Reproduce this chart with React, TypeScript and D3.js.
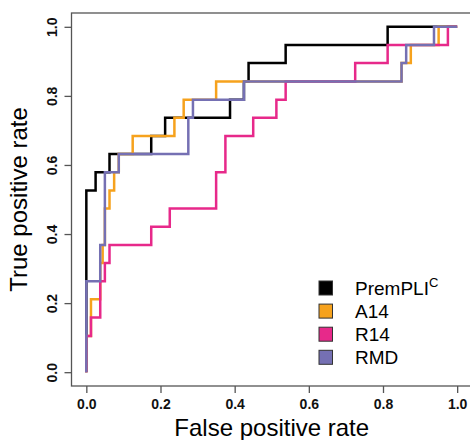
import React, { useEffect, useRef } from 'react'
import * as d3 from 'd3'

const xTicks = [0, 0.2, 0.4, 0.6, 0.8, 1.0]
const yTicks = [0, 0.2, 0.4, 0.6, 0.8, 1.0]

// ROC corners: at each fpr the tpr steps up to the listed value
const premFpr = [0, 0, 0.025, 0.0625, 0.175, 0.2125, 0.3875, 0.425, 0.4375, 0.5375, 0.8125, 1]
const premTpr = [0, 0.526, 0.579, 0.632, 0.684, 0.737, 0.789, 0.842, 0.895, 0.947, 1, 1]

const a14Fpr = [0, 0, 0.0125, 0.0375, 0.044, 0.05, 0.0625, 0.075, 0.0875, 0.125, 0.2375, 0.2625, 0.35, 0.85, 0.875, 0.95, 1]
const a14Tpr = [0, 0.105, 0.211, 0.316, 0.368, 0.474, 0.526, 0.579, 0.632, 0.684, 0.737, 0.789, 0.842, 0.895, 0.947, 1, 1]

const r14Fpr = [0, 0, 0.0125, 0.0375, 0.05, 0.0625, 0.175, 0.225, 0.35, 0.375, 0.45, 0.5125, 0.5375, 0.725, 0.8125, 0.975, 1]
const r14Tpr = [0, 0.105, 0.158, 0.263, 0.316, 0.368, 0.421, 0.474, 0.579, 0.684, 0.737, 0.789, 0.842, 0.895, 0.947, 1, 1]

const rmdFpr = [0, 0, 0.0375, 0.05, 0.0875, 0.275, 0.2875, 0.425, 0.85, 0.8625, 0.9375, 1]
const rmdTpr = [0, 0.263, 0.368, 0.579, 0.632, 0.737, 0.789, 0.842, 0.895, 0.947, 1, 1]

const seriesNames = ['PremPLI', 'A14', 'R14', 'RMD']
const seriesColors = ['#000000', '#F6A21D', '#E7298A', '#7570B3']

const font = '"Liberation Sans", Arial, sans-serif'

const App = () => {
  const ref = useRef<SVGSVGElement>(null)

  useEffect(() => {
    const svg = d3.select(ref.current)
    svg.selectAll('*').remove()

    const left = 71.5, right = 472, top = 13, bottom = 386
    const x = d3.scaleLinear().domain([-0.04, 1.04]).range([left, right])
    const y = d3.scaleLinear().domain([-0.04, 1.04]).range([bottom, top])
    const axisColor = '#555'

    const series = [
      { fpr: premFpr, tpr: premTpr },
      { fpr: a14Fpr, tpr: a14Tpr },
      { fpr: r14Fpr, tpr: r14Tpr },
      { fpr: rmdFpr, tpr: rmdTpr },
    ]

    const line = d3.line<[number, number]>()
      .x(d => x(d[0]))
      .y(d => y(d[1]))
      .curve(d3.curveStepAfter)

    series.forEach((s, i) => {
      const pts = s.fpr.map((f, j) => [f, s.tpr[j]] as [number, number])
      svg.append('path')
        .attr('d', line(pts))
        .attr('fill', 'none')
        .attr('stroke', seriesColors[i])
        .attr('stroke-width', 2.5)
    })

    // box
    svg.append('rect')
      .attr('x', left).attr('y', top)
      .attr('width', right - left).attr('height', bottom - top)
      .attr('fill', 'none')
      .attr('stroke', axisColor)
      .attr('stroke-width', 1.3)

    const xAxis = svg.append('g')
      .attr('transform', `translate(0,${bottom})`)
      .call(d3.axisBottom(x).tickValues(xTicks).tickSize(7).tickFormat(d3.format('.1f')))
    xAxis.select('.domain').remove()
    xAxis.selectAll('line').attr('stroke', axisColor).attr('stroke-width', 1.3)
    xAxis.selectAll('text')
      .attr('y', 23).attr('dy', null)
      .attr('fill', '#111')
      .style('font-family', font).style('font-size', '14px').style('font-weight', 'bold')

    const yAxis = svg.append('g')
      .attr('transform', `translate(${left},0)`)
      .call(d3.axisLeft(y).tickValues(yTicks).tickSize(7).tickFormat(d3.format('.1f')))
    yAxis.select('.domain').remove()
    yAxis.selectAll('line').attr('stroke', axisColor).attr('stroke-width', 1.3)
    yAxis.selectAll('text')
      .attr('x', 0).attr('y', -14.5).attr('dy', null)
      .attr('transform', 'rotate(-90)')
      .attr('text-anchor', 'middle')
      .attr('fill', '#111')
      .style('font-family', font).style('font-size', '14px').style('font-weight', 'bold')

    svg.append('text')
      .attr('x', (left + right) / 2).attr('y', 436)
      .attr('text-anchor', 'middle')
      .style('font-family', font).style('font-size', '24px')
      .text('False positive rate')

    svg.append('text')
      .attr('transform', `translate(27,${(top + bottom) / 2}) rotate(-90)`)
      .attr('text-anchor', 'middle')
      .style('font-family', font).style('font-size', '24px')
      .text('True positive rate')

    // legend
    const legend = svg.append('g').attr('transform', 'translate(319,281)')
    seriesNames.forEach((name, i) => {
      const row = legend.append('g').attr('transform', `translate(0,${i * 23.1})`)
      row.append('rect')
        .attr('x', 0).attr('y', 0).attr('width', 13.5).attr('height', 14)
        .attr('fill', seriesColors[i])
        .attr('stroke', '#333').attr('stroke-width', 1)
      const t = row.append('text')
        .attr('x', 36).attr('y', 14)
        .style('font-family', font).style('font-size', '19px')
        .text(name)
      if (i === 0) {
        t.append('tspan')
          .attr('dy', -8)
          .style('font-size', '13px')
          .text('C')
      }
    })
  }, [])

  return (
    <svg ref={ref} width={470} height={440}
      style={{ position: 'absolute', left: 0, top: 0, background: '#fff' }} />
  )
}

export default App
